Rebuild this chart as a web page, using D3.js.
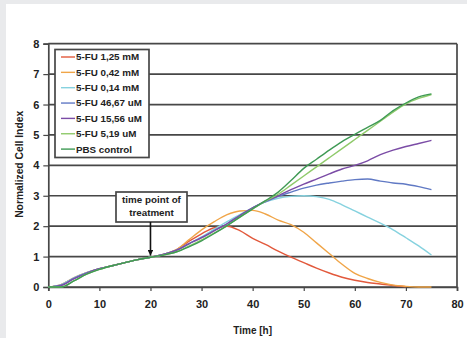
<!DOCTYPE html>
<html>
<head>
<meta charset="utf-8">
<script src="https://cdn.jsdelivr.net/npm/d3@7"></script>
<style>
  body { margin: 0; background: #e9eaec; }
  svg { display: block; font-family: "Liberation Sans", Arial, sans-serif; font-weight: bold; }
</style>
</head>
<body>
<div id="chart"></div>
<script>
// time axis (hours), sampled every 2.5 h
const times = d3.range(0, 75.01, 2.5);

const seriesNames = ['5-FU 1,25 mM', '5-FU 0,42 mM', '5-FU 0,14 mM', '5-FU 46,67 uM', '5-FU 15,56 uM', '5-FU 5,19 uM', 'PBS control'];
const seriesColors = ['#e2593c', '#f0a548', '#86d2df', '#6079c4', '#7b4ca6', '#8fca6a', '#3f9a55'];

const red = [0, 0.08, 0.3, 0.47, 0.6, 0.7, 0.8, 0.9, 0.98, 1.07, 1.22, 1.5, 1.75, 1.95, 2.0, 1.85, 1.6, 1.4, 1.18, 0.98, 0.8, 0.62, 0.46, 0.32, 0.22, 0.15, 0.1, 0.05, 0.01, null, null];
const orange = [0, 0.08, 0.3, 0.47, 0.6, 0.7, 0.8, 0.9, 0.98, 1.07, 1.22, 1.55, 1.88, 2.15, 2.38, 2.5, 2.52, 2.4, 2.2, 2.05, 1.8, 1.45, 1.1, 0.75, 0.45, 0.28, 0.15, 0.06, 0.02, 0, 0];
const cyan = [0, 0.08, 0.3, 0.47, 0.6, 0.7, 0.8, 0.9, 0.98, 1.07, 1.2, 1.42, 1.65, 1.9, 2.15, 2.38, 2.6, 2.8, 2.92, 2.98, 3.0, 2.97, 2.88, 2.7, 2.5, 2.3, 2.1, 1.88, 1.62, 1.35, 1.05];
const blue = [0, 0.06, 0.28, 0.46, 0.6, 0.7, 0.8, 0.9, 0.98, 1.07, 1.2, 1.42, 1.62, 1.85, 2.08, 2.35, 2.6, 2.8, 2.98, 3.12, 3.25, 3.35, 3.42, 3.48, 3.53, 3.55, 3.48, 3.42, 3.38, 3.3, 3.2];
const purple = [0, 0.05, 0.27, 0.45, 0.6, 0.7, 0.8, 0.9, 0.98, 1.07, 1.2, 1.42, 1.62, 1.85, 2.08, 2.35, 2.6, 2.82, 3.0, 3.2, 3.38, 3.55, 3.72, 3.88, 4.0, 4.15, 4.35, 4.5, 4.62, 4.72, 4.82];
const lightGreen = [0, 0, 0.2, 0.42, 0.58, 0.7, 0.8, 0.9, 0.98, 1.05, 1.15, 1.34, 1.55, 1.78, 2.02, 2.3, 2.57, 2.82, 3.05, 3.35, 3.65, 3.95, 4.25, 4.55, 4.85, 5.15, 5.45, 5.75, 6.02, 6.2, 6.33];
const pbs = [0, 0, 0.2, 0.42, 0.58, 0.7, 0.8, 0.9, 0.98, 1.05, 1.15, 1.32, 1.52, 1.76, 2.02, 2.3, 2.57, 2.84, 3.12, 3.5, 3.9, 4.2, 4.5, 4.78, 5.02, 5.25, 5.48, 5.8, 6.05, 6.25, 6.35];

const seriesValues = [red, orange, cyan, blue, purple, lightGreen, pbs];

const xTicks = [0, 10, 20, 30, 40, 50, 60, 70, 80];
const yTicks = [0, 1, 2, 3, 4, 5, 6, 7, 8];
const treatmentTime = 20;

const width = 467, height = 338;
const margin = { top: 43.7, right: 10, bottom: 51, left: 48.3 };

const svg = d3.select('#chart').append('svg')
  .attr('width', width)
  .attr('height', height);

// page panel
svg.append('rect').attr('width', width).attr('height', height).attr('fill', '#e9eaec');
svg.append('rect').attr('x', 6).attr('y', 4).attr('width', width - 6).attr('height', height - 4).attr('fill', '#ffffff');

const x = d3.scaleLinear().domain([0, 80]).range([margin.left, width - margin.right]);
const y = d3.scaleLinear().domain([0, 8]).range([height - margin.bottom, margin.top]);

// gridlines
svg.append('g')
  .selectAll('line')
  .data(yTicks)
  .enter()
  .append('line')
  .attr('x1', x(0))
  .attr('x2', x(80))
  .attr('y1', d => y(d))
  .attr('y2', d => y(d))
  .attr('stroke', '#474747')
  .attr('stroke-width', 1.7);

// right border
svg.append('line')
  .attr('x1', x(80)).attr('x2', x(80))
  .attr('y1', y(8)).attr('y2', y(0))
  .attr('stroke', '#474747').attr('stroke-width', 1.7);

// axes
const yAxis = svg.append('g')
  .attr('transform', `translate(${x(0)},0)`)
  .call(d3.axisLeft(y).tickValues(yTicks).tickSize(5).tickPadding(4));
const xAxis = svg.append('g')
  .attr('transform', `translate(0,${y(0)})`)
  .call(d3.axisBottom(x).tickValues(xTicks).tickSize(4).tickPadding(9));

[yAxis, xAxis].forEach(a => {
  a.select('.domain').attr('stroke', '#474747').attr('stroke-width', 1.7);
  a.selectAll('.tick line').attr('stroke', '#474747').attr('stroke-width', 1.2);
  a.selectAll('.tick text')
    .attr('fill', '#222')
    .style('font-size', '11px')
    .style('font-weight', 'bold')
    .style('font-family', '"Liberation Sans", Arial, sans-serif');
});

// axis titles
svg.append('text')
  .attr('x', x(40))
  .attr('y', 334)
  .attr('text-anchor', 'middle')
  .style('font-size', '10px')
  .attr('fill', '#222')
  .text('Time [h]');

svg.append('text')
  .attr('transform', `translate(23,${y(4) - 1}) rotate(-90)`)
  .attr('text-anchor', 'middle')
  .style('font-size', '10.3px')
  .attr('fill', '#222')
  .text('Normalized Cell Index');

// series lines
const line = d3.line()
  .defined(d => d[1] !== null)
  .x(d => x(d[0]))
  .y(d => y(d[1]))
  .curve(d3.curveMonotoneX);

svg.append('g')
  .selectAll('path')
  .data(seriesValues)
  .enter()
  .append('path')
  .attr('d', vals => line(times.map((t, i) => [t, vals[i]])))
  .attr('fill', 'none')
  .attr('stroke', (d, i) => seriesColors[i])
  .attr('stroke-width', 1.4);

// legend
const legend = svg.append('g');
legend.append('rect')
  .attr('x', 55).attr('y', 49.5)
  .attr('width', 94).attr('height', 108)
  .attr('fill', '#fff')
  .attr('stroke', '#474747')
  .attr('stroke-width', 1.7);

const items = legend.selectAll('g.item')
  .data(seriesNames)
  .enter()
  .append('g')
  .attr('transform', (d, i) => `translate(0,${57 + i * 15.35})`);

items.append('line')
  .attr('x1', 61).attr('x2', 75)
  .attr('stroke', (d, i) => seriesColors[i])
  .attr('stroke-width', 1.4);

items.append('text')
  .attr('x', 76)
  .attr('dy', '0.35em')
  .style('font-size', '9.8px')
  .attr('fill', '#222')
  .text(d => d);

// treatment annotation
const note = svg.append('g');
note.append('rect')
  .attr('x', 116).attr('y', 192)
  .attr('width', 71).attr('height', 30)
  .attr('fill', '#fff')
  .attr('stroke', '#474747')
  .attr('stroke-width', 1.7);
note.append('text')
  .attr('x', 151.5).attr('y', 203)
  .attr('text-anchor', 'middle')
  .style('font-size', '9.8px')
  .attr('fill', '#222')
  .text('time point of');
note.append('text')
  .attr('x', 151.5).attr('y', 216)
  .attr('text-anchor', 'middle')
  .style('font-size', '9.8px')
  .attr('fill', '#222')
  .text('treatment');

svg.append('defs').append('marker')
  .attr('id', 'arrow')
  .attr('viewBox', '0 -5 10 10')
  .attr('refX', 10)
  .attr('refY', 0)
  .attr('markerWidth', 3.5)
  .attr('markerHeight', 3.5)
  .attr('orient', 'auto')
  .append('path')
  .attr('d', 'M0,-5L10,0L0,5Z')
  .attr('fill', '#111');

svg.append('line')
  .attr('x1', x(treatmentTime)).attr('x2', x(treatmentTime))
  .attr('y1', 222).attr('y2', y(1) - 1)
  .attr('stroke', '#111')
  .attr('stroke-width', 1.6)
  .attr('marker-end', 'url(#arrow)');
</script>
</body>
</html>
